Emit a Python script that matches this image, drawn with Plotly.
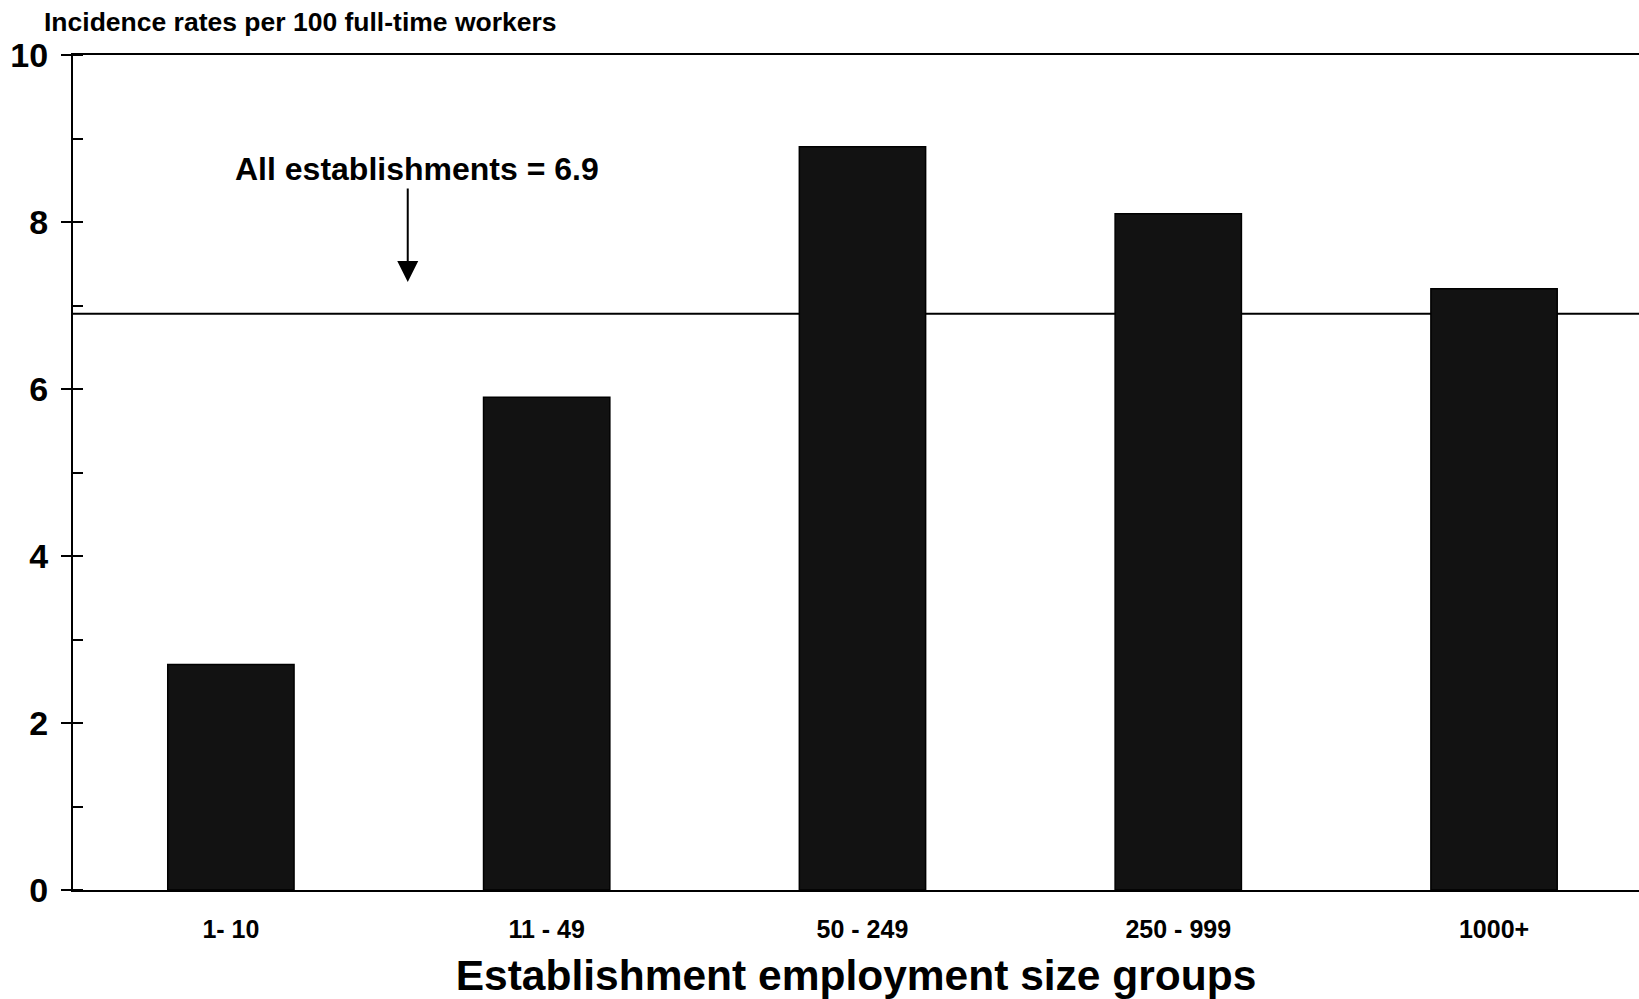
import plotly.graph_objects as go

size_groups = ['1- 10', '11 - 49', '50 - 249', '250 - 999', '1000+']
incidence_rates = [2.7, 5.9, 8.9, 8.1, 7.2]
all_establishments = 6.9
y_ticks = [0, 2, 4, 6, 8, 10]

FONT = 'Liberation Sans, Arial, sans-serif'

fig = go.Figure(go.Bar(
    x=size_groups, y=incidence_rates, width=0.4,
    marker=dict(color='#121212', line=dict(color='black', width=1.5)),
    hoverinfo='x+y'
))

# reference line for all establishments
fig.add_shape(type='line', xref='paper', yref='y', x0=0, x1=1,
              y0=all_establishments, y1=all_establishments,
              line=dict(color='black', width=2), layer='below')

fig.add_annotation(x=0.56, y=7.28, ax=0.56, ay=8.42, xref='x', yref='y',
                   axref='x', ayref='y', text='', showarrow=True,
                   arrowhead=2, arrowsize=2.1, arrowwidth=2, arrowcolor='black')
fig.add_annotation(x=0.589, y=8.63, xref='x', yref='y', showarrow=False,
                   text=f'<b>All establishments = {all_establishments}</b>',
                   font=dict(family=FONT, size=32, color='black'))

fig.add_annotation(x=-0.0198, y=1.04, xref='paper', yref='paper', showarrow=False,
                   xanchor='left', yanchor='middle',
                   text='<b>Incidence rates per 100 full-time workers</b>',
                   font=dict(family=FONT, size=26.5, color='black'))

fig.update_layout(
    width=1639, height=999,
    margin=dict(l=73, r=0, t=55, b=109, autoexpand=False),
    plot_bgcolor='white', paper_bgcolor='white',
    showlegend=False, bargap=0.6,
    font=dict(family=FONT, color='black'),
    xaxis=dict(
        range=[-0.5, 4.459], showline=True, linecolor='black', linewidth=2,
        mirror=True, ticks='', showgrid=False, zeroline=False, automargin=False,
        tickfont=dict(family=FONT, size=25, color='black'),
        ticklabelstandoff=16,
        tickvals=size_groups, ticktext=[f'<b>{g}</b>' for g in size_groups],
        title=dict(text='<b>Establishment employment size groups</b>',
                   font=dict(family=FONT, size=42.5, color='black'), standoff=18)
    ),
    yaxis=dict(
        range=[0, 10], tickvals=y_ticks, ticktext=[f'<b>{t}</b>' for t in y_ticks],
        showline=True, linecolor='black', linewidth=2, automargin=False,
        ticks='outside', ticklen=10, tickwidth=2, tickcolor='black',
        minor=dict(ticks='inside', ticklen=10, tickwidth=1.5, tickcolor='black', dtick=1),
        showgrid=False, zeroline=False,
        tickfont=dict(family=FONT, size=34, color='black'),
        ticklabelstandoff=6
    )
)

fig.write_html('out.html', config={'displayModeBar': False},
               post_script="document.body.style.margin='0';document.body.style.overflow='hidden';")
